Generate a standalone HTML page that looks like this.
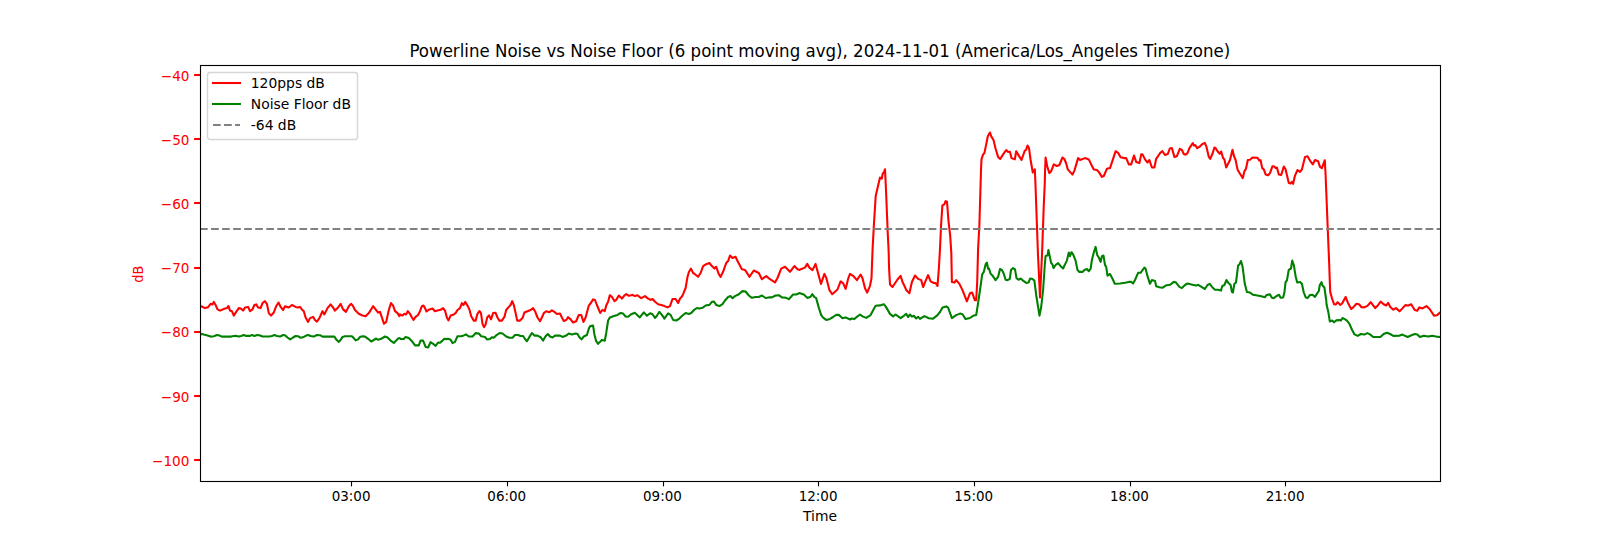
<!DOCTYPE html>
<html lang="en">
<head>
<meta charset="utf-8">
<title>Powerline Noise vs Noise Floor</title>
<style>
html,body{margin:0;padding:0;background:#fff;}
body{width:1600px;height:540px;overflow:hidden;}
svg{display:block;font-family:"DejaVu Sans","Liberation Sans",sans-serif;}
.tk{font-size:13.89px;}
.r{fill:#ff0000;}
.k{fill:#000;}
</style>
</head>
<body>
<svg width="1600" height="540" viewBox="0 0 1600 540">
<rect x="0" y="0" width="1600" height="540" fill="#ffffff"/>
<defs><clipPath id="ax"><rect x="200" y="64.8" width="1240" height="415.8"/></clipPath></defs>

<g stroke="#000" stroke-width="1.11">
<line x1="351.5" y1="481" x2="351.5" y2="486.36"/>
<line x1="507.5" y1="481" x2="507.5" y2="486.36"/>
<line x1="663.5" y1="481" x2="663.5" y2="486.36"/>
<line x1="818.5" y1="481" x2="818.5" y2="486.36"/>
<line x1="974.5" y1="481" x2="974.5" y2="486.36"/>
<line x1="1130.5" y1="481" x2="1130.5" y2="486.36"/>
<line x1="1285.5" y1="481" x2="1285.5" y2="486.36"/>
</g>
<g class="tk k" text-anchor="middle">
<text x="351.10" y="501" textLength="38.8" lengthAdjust="spacingAndGlyphs">03:00</text>
<text x="506.76" y="501" textLength="38.8" lengthAdjust="spacingAndGlyphs">06:00</text>
<text x="662.43" y="501" textLength="38.8" lengthAdjust="spacingAndGlyphs">09:00</text>
<text x="818.10" y="501" textLength="38.8" lengthAdjust="spacingAndGlyphs">12:00</text>
<text x="973.76" y="501" textLength="38.8" lengthAdjust="spacingAndGlyphs">15:00</text>
<text x="1129.43" y="501" textLength="38.8" lengthAdjust="spacingAndGlyphs">18:00</text>
<text x="1285.10" y="501" textLength="38.8" lengthAdjust="spacingAndGlyphs">21:00</text>
</g>
<g stroke="#ff0000" stroke-width="2.083">
<line x1="194.1" y1="75" x2="200" y2="75"/>
<line x1="194.1" y1="139" x2="200" y2="139"/>
<line x1="194.1" y1="203" x2="200" y2="203"/>
<line x1="194.1" y1="268" x2="200" y2="268"/>
<line x1="194.1" y1="332" x2="200" y2="332"/>
<line x1="194.1" y1="396" x2="200" y2="396"/>
<line x1="194.1" y1="460" x2="200" y2="460"/>
</g>
<g class="tk r" text-anchor="end">
<text x="189.4" y="81" textLength="28.6" lengthAdjust="spacingAndGlyphs">−40</text>
<text x="189.4" y="145" textLength="28.6" lengthAdjust="spacingAndGlyphs">−50</text>
<text x="189.4" y="209" textLength="28.6" lengthAdjust="spacingAndGlyphs">−60</text>
<text x="189.4" y="273" textLength="28.6" lengthAdjust="spacingAndGlyphs">−70</text>
<text x="189.4" y="337" textLength="28.6" lengthAdjust="spacingAndGlyphs">−80</text>
<text x="189.4" y="402" textLength="28.6" lengthAdjust="spacingAndGlyphs">−90</text>
<text x="189.4" y="466" textLength="37.4" lengthAdjust="spacingAndGlyphs">−100</text>
</g>
<g clip-path="url(#ax)" fill="none" stroke-width="2.083" stroke-linejoin="round" stroke-linecap="square">
<polyline stroke="#ff0000" points="200.0,306.5 201.2,306.2 205.0,308.1 208.1,307.2 210.6,303.8 212.5,304.4 213.8,301.9 215.6,305.0 217.5,309.4 220.0,310.6 225.0,308.5 226.9,308.1 228.5,306.0 230.0,310.6 231.9,311.2 233.8,315.6 236.2,311.9 238.8,308.1 241.2,308.8 243.1,310.6 245.0,307.5 248.1,306.9 250.0,311.2 252.5,309.4 254.4,305.0 256.2,304.4 258.1,307.5 260.6,308.1 262.5,303.1 264.8,301.2 266.9,303.8 268.8,313.1 271.0,315.6 273.8,312.5 276.2,306.2 278.5,302.5 280.6,306.9 283.1,310.0 285.0,306.2 288.8,307.5 291.9,305.0 295.6,306.9 298.1,307.5 300.0,306.9 301.9,309.4 303.8,311.2 305.6,317.5 308.1,321.9 310.0,318.1 313.1,316.9 315.0,320.0 316.9,321.6 319.4,318.1 322.5,311.2 324.4,314.4 327.5,308.1 330.6,304.4 333.1,307.5 335.0,310.6 338.1,307.5 340.6,303.8 343.1,309.4 346.0,311.9 348.8,306.2 351.2,303.8 353.1,306.2 355.0,310.0 358.8,313.8 362.5,315.6 365.6,316.2 368.8,313.1 373.1,306.2 375.6,309.4 378.1,312.5 380.0,311.9 381.9,317.5 384.0,323.8 386.2,321.9 388.8,310.0 391.0,303.1 393.1,305.6 395.0,311.2 397.5,313.1 399.4,316.2 400.0,314.4 402.5,315.6 404.4,313.8 406.2,314.4 407.8,311.2 410.0,313.8 411.9,317.5 413.5,319.8 415.6,316.9 418.1,315.0 420.0,311.2 421.9,306.2 423.5,305.6 425.0,308.1 426.5,311.5 429.4,309.4 432.5,308.5 435.0,311.2 437.5,310.6 440.6,309.8 443.1,308.1 445.0,310.6 446.9,317.5 448.5,320.4 450.6,315.6 453.8,314.4 455.6,313.1 457.5,310.0 460.0,308.1 461.9,303.1 463.5,305.0 465.2,301.9 467.5,305.6 469.4,309.4 471.2,316.2 473.8,320.6 475.6,320.6 477.5,313.8 479.4,311.0 481.0,313.1 482.5,323.8 484.0,327.2 485.6,324.4 487.2,317.5 489.0,315.4 491.0,319.4 493.1,313.1 495.6,312.8 497.5,317.5 499.4,320.6 501.9,320.6 504.4,316.9 506.2,310.0 508.8,306.9 510.6,305.0 512.2,301.2 513.8,305.0 515.6,313.1 517.2,320.6 520.0,320.6 522.5,318.1 524.4,312.5 527.5,311.2 530.6,310.0 533.1,308.1 535.0,311.2 537.5,317.5 540.0,321.2 541.9,317.5 543.8,313.1 546.2,311.2 549.4,312.2 551.9,310.4 554.4,311.9 556.9,314.0 560.0,313.5 561.9,317.5 563.8,320.9 566.2,320.0 568.1,317.2 570.6,319.4 573.1,322.5 576.2,321.2 578.8,315.0 581.2,315.0 583.5,321.9 585.6,317.5 588.8,305.6 591.2,302.5 593.1,299.4 595.0,300.0 596.9,305.0 599.8,311.9 600.2,313.0 602.5,309.9 604.8,311.1 606.2,305.5 608.1,301.8 609.8,295.2 611.9,296.8 614.4,301.1 616.2,299.9 618.8,295.5 621.9,298.6 624.4,295.5 626.2,294.0 628.8,295.8 632.5,294.9 635.0,296.1 637.5,295.2 641.2,298.2 645.0,296.1 648.1,298.6 650.6,299.9 652.5,299.0 655.0,301.8 658.1,304.2 661.2,304.9 664.4,306.1 667.5,307.4 670.0,306.1 672.5,299.0 675.6,299.0 678.1,303.0 680.0,298.6 681.9,296.5 683.1,294.2 685.6,288.0 687.5,276.8 689.0,271.8 691.0,268.6 693.1,273.0 695.0,274.2 698.1,276.8 700.6,273.0 703.1,266.1 706.2,264.2 709.4,263.0 711.9,266.1 714.4,268.6 716.2,266.8 718.8,274.2 720.6,276.8 723.1,271.8 726.2,263.0 728.1,261.1 730.0,255.5 732.5,258.0 735.6,256.8 737.5,261.1 741.9,269.2 745.0,269.9 749.4,276.8 753.8,270.5 758.8,273.0 761.9,279.2 766.2,276.1 770.0,279.2 775.0,282.4 777.5,278.0 781.2,268.6 785.0,266.8 790.0,271.8 794.4,266.1 797.5,269.2 799.8,269.9 800.0,269.5 805.0,267.6 807.2,263.9 809.4,267.6 812.5,270.1 815.6,263.9 818.1,273.2 821.0,283.9 824.4,273.9 826.2,277.6 829.4,290.1 832.2,294.2 837.5,289.5 840.6,281.4 843.1,283.2 845.6,288.9 848.1,278.9 850.0,273.9 853.1,275.8 856.9,280.1 860.6,274.5 862.5,278.2 865.0,288.2 867.2,292.6 870.0,285.8 871.5,278.2 872.0,264.5 872.6,248.9 873.9,224.8 875.7,196.1 877.6,187.8 880.0,177.6 881.9,178.5 882.6,173.9 884.1,172.0 885.0,169.3 885.9,187.8 887.8,234.1 888.7,252.6 889.0,267.0 890.0,284.5 892.5,287.0 895.0,283.2 897.5,279.5 900.6,275.8 902.5,282.0 905.0,287.0 906.2,290.1 909.4,293.2 911.9,282.0 915.0,275.5 918.1,278.9 921.2,280.1 923.1,287.0 925.6,280.8 928.1,275.1 930.6,281.4 933.8,283.0 935.6,283.0 937.5,285.8 938.8,269.5 940.0,248.9 941.1,224.8 942.4,205.4 944.3,204.4 945.6,201.1 947.0,201.7 948.5,221.1 950.2,235.9 951.3,252.6 951.9,282.0 954.4,282.6 956.2,280.1 959.4,283.9 962.5,290.1 966.9,301.4 970.0,293.2 972.2,292.6 974.8,300.1 976.2,300.1 977.2,282.0 978.1,248.9 979.4,224.8 981.0,170.0 981.5,159.4 983.1,154.4 984.4,153.1 986.2,144.4 987.8,136.2 990.0,132.5 991.2,136.2 993.5,140.0 995.6,148.8 998.1,156.9 1000.2,159.0 1003.1,154.4 1006.2,150.0 1008.1,151.9 1010.0,151.9 1011.5,158.1 1014.8,159.4 1016.2,151.2 1018.8,155.6 1021.5,160.0 1024.8,150.6 1026.0,150.0 1027.5,145.6 1029.0,148.1 1030.6,160.0 1032.8,172.5 1034.8,169.4 1035.4,182.5 1036.2,205.0 1038.0,255.0 1040.0,297.5 1042.0,255.0 1043.8,205.0 1044.8,182.5 1045.0,172.5 1045.6,157.5 1047.2,166.2 1049.4,173.1 1051.2,171.2 1053.8,164.4 1056.9,166.0 1059.4,165.0 1062.5,157.5 1064.4,159.0 1066.2,163.5 1067.8,169.4 1070.0,171.9 1072.5,174.6 1074.4,170.6 1078.1,158.1 1080.0,160.0 1085.0,158.1 1088.8,159.4 1091.2,164.4 1093.8,169.4 1096.9,170.0 1098.8,171.9 1101.9,176.9 1103.8,176.0 1106.9,168.8 1110.0,168.1 1113.1,158.8 1115.6,151.2 1118.1,152.8 1120.6,157.2 1123.8,158.1 1126.2,158.1 1128.8,164.4 1131.2,164.4 1134.0,155.6 1136.2,161.9 1139.4,163.1 1141.2,154.4 1142.5,154.4 1145.0,159.4 1147.5,162.5 1149.4,160.0 1151.9,167.5 1154.4,167.5 1156.2,158.8 1159.8,153.5 1160.0,153.1 1162.5,151.2 1165.0,155.0 1167.8,154.0 1169.8,148.5 1171.9,148.1 1174.4,156.9 1176.9,156.2 1179.8,148.8 1181.9,150.0 1183.8,154.0 1185.6,154.8 1187.5,153.1 1189.4,148.1 1192.8,143.1 1194.0,145.6 1195.2,145.0 1197.2,148.1 1199.4,146.9 1201.9,144.4 1204.8,142.8 1206.5,146.9 1208.8,156.9 1210.2,158.8 1212.5,153.8 1214.4,147.5 1215.6,148.1 1217.5,151.2 1219.8,153.8 1221.2,151.5 1223.1,158.1 1224.4,159.4 1226.2,167.5 1228.1,163.8 1230.0,160.0 1232.5,149.8 1234.0,156.2 1235.6,160.0 1237.5,169.4 1240.0,173.8 1242.8,178.1 1244.4,171.2 1246.0,168.8 1247.8,160.0 1250.0,159.8 1252.5,157.5 1257.5,157.8 1259.4,160.6 1260.6,160.2 1262.2,168.1 1263.8,169.4 1265.6,174.4 1268.1,175.2 1270.0,173.1 1272.5,166.2 1274.4,166.5 1275.6,168.1 1276.9,167.5 1278.8,174.4 1281.2,175.0 1283.8,166.5 1285.6,169.4 1287.2,176.2 1288.8,183.1 1290.6,183.5 1291.9,181.9 1293.1,183.8 1295.0,175.6 1297.5,170.0 1300.0,171.9 1301.9,169.4 1305.0,156.9 1307.5,156.2 1310.0,160.6 1312.8,164.4 1315.0,160.0 1318.1,161.2 1320.0,166.9 1321.9,168.1 1324.8,160.2 1325.6,175.0 1328.5,247.5 1329.0,258.8 1330.2,291.9 1332.2,299.0 1334.0,304.2 1335.7,304.6 1337.6,302.2 1340.2,304.8 1342.1,303.5 1345.6,297.0 1348.0,302.9 1351.2,309.0 1353.2,307.4 1356.4,303.8 1359.0,304.2 1361.6,307.2 1364.2,307.4 1367.4,305.9 1370.7,302.2 1372.6,304.6 1375.2,308.1 1377.8,305.5 1380.6,301.6 1383.6,304.2 1386.2,305.5 1388.2,302.9 1390.1,306.8 1393.3,309.7 1395.9,308.1 1399.6,311.3 1402.4,308.4 1405.3,305.1 1408.3,305.5 1411.2,304.2 1414.7,310.0 1417.3,310.7 1419.3,307.4 1422.5,308.4 1426.4,306.1 1429.6,309.0 1434.2,315.8 1437.4,314.9 1440.0,312.6"/>
<polyline stroke="#008000" points="200.0,334.5 201.8,333.9 203.8,334.6 207.5,335.6 210.6,336.6 213.8,336.2 216.9,335.0 218.8,335.2 221.9,336.6 231.2,336.6 233.8,336.0 236.2,335.9 238.8,336.6 241.2,336.0 243.8,335.0 246.2,335.9 250.0,335.9 251.9,335.0 254.4,335.9 256.9,335.0 259.4,335.2 262.5,336.5 269.4,336.5 271.9,335.9 274.4,335.0 276.9,336.0 280.0,336.6 283.1,335.0 285.0,335.2 287.5,337.5 290.2,339.4 293.1,337.5 295.6,336.0 298.1,336.2 300.6,337.8 303.8,336.9 306.2,335.6 308.1,335.0 310.6,336.0 313.8,336.6 316.9,335.0 320.0,335.2 322.5,336.6 334.4,336.6 336.2,339.4 338.8,341.9 340.6,340.0 342.5,336.9 345.0,336.2 351.9,336.2 353.8,338.1 355.6,340.4 358.1,339.4 360.0,336.9 362.5,336.2 365.0,336.6 368.1,338.8 371.2,341.5 373.8,340.0 376.2,338.5 378.1,339.8 381.2,338.8 385.0,336.5 387.5,337.5 390.6,340.6 393.8,342.9 396.2,340.6 398.1,338.5 399.8,338.1 400.6,339.0 403.8,339.0 405.6,336.9 408.8,338.1 411.9,341.2 415.0,345.4 418.8,345.4 420.6,340.6 423.1,340.6 425.6,346.9 428.1,347.5 430.6,342.2 433.1,343.8 435.6,345.9 438.1,342.5 440.0,342.8 442.5,340.6 444.4,338.8 446.2,339.1 448.1,338.8 450.6,339.8 452.5,343.1 455.0,341.9 457.5,336.2 461.2,336.2 463.8,335.4 466.0,334.4 468.8,336.5 472.5,336.5 475.6,333.1 478.8,333.5 481.2,336.2 485.0,336.9 486.9,339.4 490.0,339.0 491.9,337.2 493.8,337.8 496.9,334.8 500.0,332.9 502.5,333.5 506.2,336.5 509.4,337.8 512.5,337.8 515.0,335.0 518.1,335.0 520.6,336.0 523.1,336.0 525.0,339.0 526.9,341.2 529.4,336.9 531.9,333.1 534.4,335.6 537.5,335.6 540.6,337.2 543.1,340.6 545.6,336.2 547.8,334.0 550.0,336.5 552.5,337.5 555.0,335.6 560.0,335.6 562.5,336.9 566.2,335.6 568.8,333.5 571.9,334.4 575.6,333.5 577.5,334.0 579.4,337.2 581.5,339.4 583.8,336.5 586.9,335.0 588.8,328.8 590.2,326.0 593.1,325.6 594.4,334.4 596.2,341.2 598.1,343.8 599.8,341.9 600.2,341.8 601.9,339.9 604.8,340.8 606.2,333.0 608.1,320.5 610.0,317.4 613.8,316.1 617.5,314.9 620.6,313.0 623.1,313.6 625.6,316.5 628.1,316.8 631.2,314.2 634.8,312.8 637.5,315.2 639.8,317.4 643.8,312.4 646.9,315.8 650.0,313.2 652.5,314.2 655.0,318.0 656.9,315.8 659.4,311.8 661.9,314.9 664.4,318.6 668.1,313.4 670.6,314.9 673.1,319.9 676.2,320.5 679.4,318.6 682.5,315.5 685.6,313.0 688.8,313.9 691.2,313.0 693.8,310.2 696.9,308.0 699.4,308.6 702.5,307.8 705.6,305.5 709.4,304.9 711.9,301.8 714.0,301.5 716.2,304.9 719.4,306.1 722.5,304.2 725.0,300.5 728.1,297.0 730.6,296.1 732.5,298.2 735.0,296.1 738.8,294.2 742.5,291.1 745.6,291.5 748.8,295.5 751.9,297.8 755.6,297.0 758.8,297.0 761.9,295.5 765.6,298.0 768.8,297.4 771.9,297.4 775.6,295.5 778.8,295.2 781.9,297.4 786.2,297.8 788.8,299.2 793.1,294.5 796.2,294.5 799.8,293.0 800.0,293.2 803.8,294.5 807.5,298.0 810.6,296.8 812.2,294.2 814.4,297.0 816.2,298.2 818.8,307.6 821.2,315.1 823.1,317.6 826.2,319.9 830.0,318.9 833.1,317.0 836.2,314.9 838.8,314.9 842.5,318.2 845.6,317.4 850.0,319.5 851.9,318.5 854.4,319.1 856.9,316.8 860.0,314.5 862.5,316.4 866.2,317.9 870.6,315.1 873.8,308.9 875.6,305.8 880.0,305.4 883.8,304.2 885.6,306.4 890.0,313.9 893.1,316.4 895.6,314.5 900.6,318.2 903.8,315.8 906.2,313.9 908.1,317.0 910.0,314.5 911.9,316.6 913.8,315.8 916.2,318.5 918.1,316.8 920.0,318.9 924.4,316.1 928.8,318.2 933.1,318.6 937.5,315.1 940.0,312.0 942.5,307.6 946.2,306.4 948.1,307.6 951.9,318.2 956.2,315.1 960.0,313.6 962.5,314.2 965.6,319.1 970.0,318.0 973.1,315.8 976.2,315.1 978.1,303.2 980.0,290.0 982.2,274.4 983.8,271.9 985.6,264.4 986.9,262.5 988.1,268.8 989.0,268.5 990.6,273.8 992.5,275.6 995.6,280.2 998.1,276.9 1000.0,269.0 1001.9,270.0 1003.8,273.8 1005.6,279.8 1007.5,280.2 1009.8,278.8 1011.0,270.0 1013.1,268.1 1015.0,269.4 1016.5,278.1 1018.5,279.8 1020.6,278.5 1023.1,280.6 1026.2,282.9 1028.5,282.5 1030.2,278.5 1032.5,279.0 1034.4,280.6 1036.2,295.0 1038.1,307.0 1039.5,315.6 1041.2,307.0 1043.1,290.0 1044.8,265.0 1045.6,256.0 1047.5,255.6 1048.4,250.0 1050.0,257.5 1051.2,263.1 1052.5,264.4 1053.5,268.1 1055.6,265.0 1058.1,263.1 1060.6,266.2 1063.1,268.5 1065.0,264.4 1066.9,260.6 1068.8,252.5 1070.0,256.2 1071.5,252.2 1073.1,254.4 1075.6,260.6 1077.5,270.0 1079.4,271.9 1082.5,271.9 1084.4,270.0 1086.9,269.0 1088.8,271.2 1090.6,268.8 1091.9,260.0 1093.8,252.5 1095.6,246.9 1097.2,255.0 1098.8,257.5 1100.6,261.9 1101.9,256.2 1103.5,255.6 1105.0,265.0 1106.2,266.9 1107.5,275.6 1110.0,274.0 1112.5,278.8 1114.8,283.8 1120.0,283.5 1125.0,282.8 1128.8,281.9 1131.2,281.9 1133.1,283.5 1135.0,280.0 1138.1,272.8 1140.6,272.8 1144.4,267.5 1145.6,268.8 1147.5,276.2 1150.0,283.8 1151.9,280.0 1155.0,281.0 1156.2,286.2 1159.4,287.2 1162.5,287.8 1165.6,285.6 1169.8,284.8 1170.2,284.8 1173.8,281.9 1175.6,282.2 1179.4,286.9 1181.9,288.1 1185.0,285.0 1187.5,283.5 1192.5,284.8 1196.2,285.6 1198.1,284.8 1201.9,287.2 1204.8,289.0 1207.5,285.0 1209.8,283.8 1212.5,287.5 1215.0,289.8 1218.1,289.8 1221.0,290.6 1222.2,286.2 1224.4,285.0 1226.5,280.0 1228.5,283.1 1230.6,285.0 1231.9,291.9 1232.9,292.5 1234.4,283.8 1236.0,282.5 1238.1,265.6 1239.4,264.4 1241.0,261.0 1242.5,266.2 1244.8,283.8 1246.9,291.9 1250.0,292.5 1253.1,294.8 1257.5,295.6 1261.2,296.2 1265.0,297.2 1266.5,295.0 1270.0,294.4 1271.9,297.8 1273.8,298.1 1276.2,296.2 1279.0,294.8 1280.6,297.8 1283.1,297.5 1284.4,292.5 1285.6,281.9 1286.9,280.6 1288.8,269.8 1291.0,268.5 1292.2,260.6 1293.8,265.0 1295.6,276.2 1297.2,282.5 1300.0,281.9 1301.9,283.8 1303.8,292.5 1305.6,297.2 1307.5,298.1 1310.0,295.0 1312.5,294.8 1315.0,296.9 1316.9,293.8 1318.8,291.0 1319.8,285.0 1321.5,282.2 1322.5,285.6 1324.4,287.5 1326.2,300.0 1326.6,304.8 1328.3,311.9 1329.8,321.4 1332.2,320.6 1334.0,322.3 1336.3,320.4 1338.9,320.1 1340.8,320.6 1342.5,318.0 1344.7,319.1 1346.7,320.4 1349.3,323.6 1351.9,329.5 1354.5,334.4 1357.7,335.9 1360.9,334.0 1364.2,334.6 1367.4,333.1 1370.0,334.4 1373.2,337.0 1380.4,337.0 1383.6,334.0 1386.9,332.7 1390.1,334.0 1393.3,335.9 1399.2,335.7 1402.4,334.6 1407.6,337.0 1411.5,335.3 1414.7,334.0 1417.3,334.6 1419.9,337.0 1423.8,335.7 1428.3,336.6 1432.2,335.7 1436.1,336.6 1440.0,337.0"/>
<line x1="200" y1="229" x2="1440" y2="229" stroke="#808080" stroke-linecap="butt" stroke-dasharray="7.708 3.333"/>
</g>
<rect x="200.5" y="65.5" width="1240" height="416" fill="none" stroke="#000" stroke-width="1.11"/>
<text class="tk k" text-anchor="middle" x="820" y="520.5">Time</text>
<text class="tk r" text-anchor="middle" transform="translate(142.6,274.2) rotate(-90)" textLength="17.1" lengthAdjust="spacingAndGlyphs">dB</text>
<text class="k" font-size="17.8px" text-anchor="middle" transform="translate(819.8,57) scale(0.9345,1)">Powerline Noise vs Noise Floor (6 point moving avg), 2024-11-01 (America/Los_Angeles Timezone)</text>
<rect x="207.5" y="72.5" width="150" height="67" rx="2.8" ry="2.8" fill="#fff" fill-opacity="0.8" stroke="#cccccc" stroke-opacity="0.8" stroke-width="1.39"/>
<g fill="none" stroke-width="2.083">
<line x1="212" y1="83" x2="241" y2="83" stroke="#ff0000"/>
<line x1="212" y1="104" x2="241" y2="104" stroke="#008000"/>
<line x1="213" y1="125" x2="240" y2="125" stroke="#808080" stroke-dasharray="7.708 3.333"/>
</g>
<g class="tk k">
<text x="250.8" y="88">120pps dB</text>
<text x="250.8" y="109">Noise Floor dB</text>
<text x="250.8" y="130">-64 dB</text>
</g>
</svg>
</body>
</html>
